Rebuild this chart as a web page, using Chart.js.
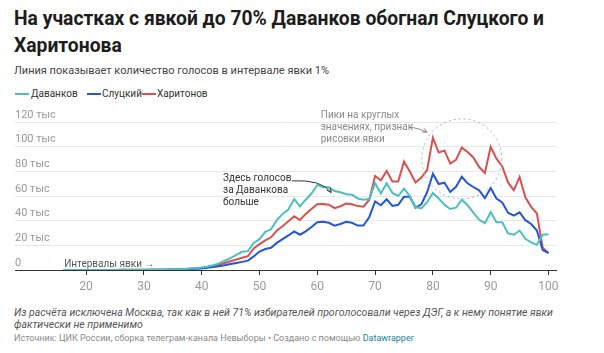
<!DOCTYPE html>
<html><head><meta charset="utf-8">
<script src="https://cdn.jsdelivr.net/npm/chart.js@4"></script>
<style>
html,body{margin:0;padding:0;background:#fff;}
body{width:604px;height:353px;position:relative;overflow:hidden;font-family:Roboto,"Noto Sans",sans-serif;}
#title{position:absolute;left:14px;top:5px;width:580px;font-size:19.3px;font-weight:700;line-height:27px;color:#1d1d1d;}
#sub{position:absolute;left:14px;top:64px;font-size:11px;color:#444;}
#legend{position:absolute;left:0;top:87px;width:604px;height:14px;font-size:10px;color:#333;}
.sw{position:absolute;top:6px;width:14px;height:2px}
.lt{position:absolute;top:0;line-height:14px}
#wrap{position:absolute;left:0;top:100px;width:604px;height:200px;}
#note{position:absolute;left:14px;top:307px;font-size:10.5px;font-style:italic;color:#555;line-height:12px;width:585px}
#src{position:absolute;left:14px;top:333px;font-size:9px;color:#888;}
#src span{color:#1d81a2}
</style>
</head><body>
<div id="title">На участках с явкой до 70% Даванков обогнал Слуцкого и Харитонова</div>
<div id="sub">Линия показывает количество голосов в интервале явки 1%</div>
<div id="legend">
  <div class="sw" style="left:15px;background:#4cbfc0"></div><div class="lt" style="left:31px">Даванков</div>
  <div class="sw" style="left:87px;background:#2357d9"></div><div class="lt" style="left:102px">Слуцкий</div>
  <div class="sw" style="left:142px;background:#d9514e"></div><div class="lt" style="left:157px">Харитонов</div>
</div>
<div id="wrap"><canvas id="c" width="604" height="200"></canvas></div>
<div id="note">Из расчёта исключена Москва, так как в ней 71% избирателей проголосовали через ДЭГ, а к нему понятие явки фактически не применимо</div>
<div id="src">Источник: ЦИК России, сборка телеграм-канала Невыборы • Создано с помощью <span>Datawrapper</span></div>
<script>
// Turnout intervals, %
const turnout = [16,17,18,19,20,21,22,23,24,25,26,27,28,29,30,31,32,33,34,35,36,37,38,39,40,
41,42,43,44,45,46,47,48,49,50,51,52,53,54,55,56,57,58,59,60,61,62,63,64,65,66,67,68,69,70,
71,72,73,74,75,76,77,78,79,80,81,82,83,84,85,86,87,88,89,90,91,92,93,94,95,96,97,98,99,100];
// Votes, thousands
const davankov = [0.1,0.1,0.1,0.1,0.1,0.1,0.1,0.1,0.1,0.1,0.2,0.2,0.2,0.2,0.2,0.3,0.3,0.3,0.4,0.5,0.7,0.9,1.2,1.6,2.1,
2.8,3.8,5.4,7.5,9.7,12.3,14.8,15.3,22,25,31,33,40.5,45.5,49,57.5,51.5,57,62,69,67,67,64,63,61.5,61,58,57,57.5,70.4,
62,70.4,62.5,60,66,60,51,50,55,62.5,58,53,49.5,50.5,57,52.5,46.5,40.7,38,47,38.7,38.7,29.7,28.6,32,25.3,22.4,20.4,28.6,29];
const slutsky = [0.05,0.05,0.05,0.05,0.05,0.05,0.05,0.05,0.05,0.05,0.1,0.1,0.1,0.1,0.1,0.15,0.2,0.2,0.25,0.3,0.45,0.6,0.8,1.0,1.3,
1.8,2.4,3,3.9,4.8,5.7,6.6,7.6,11,15,17,18,22,25,28,31.3,28.6,31.3,34.8,38.8,39.2,38.3,36,37.3,39,38.3,36,36,43,55.6,
52.5,57.3,52,52.9,59.3,59.3,50.6,53.3,63,78,69.7,70.8,63.3,67.5,75.6,70.3,67.3,64.6,58.3,66.4,57.9,54.8,46.5,44.1,46.8,40.4,37.3,32,16.1,13.8];
const kharitonov = [0.08,0.08,0.08,0.08,0.08,0.08,0.08,0.08,0.08,0.08,0.15,0.15,0.15,0.15,0.15,0.2,0.25,0.3,0.35,0.4,0.6,0.8,1.05,1.35,1.8,
2.4,3.2,4.3,5.7,7.1,8.5,9.9,11.2,17.5,21,24,26.5,32,35.5,39.5,43.5,40.5,45.5,49.5,53.3,53.5,53,50.2,51.7,53.8,53.3,51.8,51.3,57,76.2,
72.8,80.3,71.7,71.7,88,79.8,71,75,81,107.3,95.2,96.9,86.3,89.3,99.2,95.7,91.3,83.5,78.7,100,90.3,84,71,64.6,75.5,59,51.2,45.8,18,13.8];
const xTicks = [20,30,40,50,60,70,80,90,100];
const yTicks = [0,20,40,60,80,100,120];

const pts = arr => turnout.map((t,i)=>({x:t,y:arr[i]}));

function arrowHead(ctx, x0, y0, x1, y1, size){
  const a = Math.atan2(y1-y0, x1-x0);
  ctx.beginPath();
  ctx.moveTo(x1 - size*Math.cos(a-0.45), y1 - size*Math.sin(a-0.45));
  ctx.lineTo(x1, y1);
  ctx.lineTo(x1 - size*Math.cos(a+0.45), y1 - size*Math.sin(a+0.45));
  ctx.stroke();
}

const annot = {
  id:'annot',
  afterDatasetsDraw(chart){
    const {ctx, scales:{x,y}} = chart;
    ctx.save();
    ctx.textBaseline = 'middle';
    ctx.textAlign = 'left';
    // axis hint
    ctx.font = '10px Roboto';
    ctx.fillStyle = '#555';
    ctx.fillText('Интервалы явки →', x.getPixelForValue(16.2), y.getPixelForValue(0) - 6);
    // annotation 1
    ctx.fillStyle = '#333';
    const a1x = x.getPixelForValue(43.7), a1y = y.getPixelForValue(73.9);
    ['Здесь голосов','за Даванкова','больше'].forEach((t,i)=>ctx.fillText(t, a1x, a1y + i*12));
    ctx.strokeStyle = '#333'; ctx.lineWidth = 1;
    const s1 = [x.getPixelForValue(55.6), y.getPixelForValue(72.3)];
    const c1 = [x.getPixelForValue(60.8), y.getPixelForValue(73.5)];
    const e1 = [x.getPixelForValue(62.4), y.getPixelForValue(62.8)];
    ctx.beginPath(); ctx.moveTo(s1[0],s1[1]); ctx.quadraticCurveTo(c1[0],c1[1],e1[0],e1[1]); ctx.stroke();
    arrowHead(ctx, c1[0], c1[1], e1[0], e1[1], 5);
    // annotation 2
    ctx.fillStyle = '#8a8a8a';
    const a2x = x.getPixelForValue(60.6), a2y = y.getPixelForValue(124.9);
    ['Пики на круглых','значениях, признак','рисовки явки'].forEach((t,i)=>ctx.fillText(t, a2x, a2y + i*12));
    ctx.strokeStyle = '#8a8a8a';
    const s2 = [x.getPixelForValue(75.9), y.getPixelForValue(116)];
    const e2 = [x.getPixelForValue(79.0), y.getPixelForValue(111.8)];
    ctx.beginPath(); ctx.moveTo(s2[0],s2[1]); ctx.quadraticCurveTo((s2[0]+e2[0])/2, s2[1]+1, e2[0], e2[1]); ctx.stroke();
    arrowHead(ctx, (s2[0]+e2[0])/2, s2[1]+1, e2[0], e2[1], 5);
    // dotted circle
    ctx.strokeStyle = '#aaa';
    ctx.setLineDash([2,3]);
    ctx.beginPath();
    ctx.arc(x.getPixelForValue(85.0), y.getPixelForValue(90.1), 40, 0, Math.PI*2);
    ctx.stroke();
    ctx.restore();
  }
};

new Chart(document.getElementById('c'), {
  type:'line',
  data:{datasets:[
    {label:'Даванков', data:pts(davankov), borderColor:'#4cbfc0', borderWidth:2, pointRadius:0, tension:0},
    {label:'Слуцкий', data:pts(slutsky), borderColor:'#2357d9', borderWidth:2, pointRadius:0, tension:0},
    {label:'Харитонов', data:pts(kharitonov), borderColor:'#d9514e', borderWidth:2, pointRadius:0, tension:0}
  ]},
  options:{
    responsive:false, animation:false, devicePixelRatio:1,
    layout:{padding:{left:15,right:48,top:22,bottom:0}},
    plugins:{legend:{display:false}, tooltip:{enabled:false}},
    scales:{
      x:{type:'linear', min:7.7, max:101.3,
        afterBuildTicks:s=>{s.ticks = xTicks.map(v=>({value:v}));},
        afterFit:s=>{s.height = 30;},
        grid:{drawOnChartArea:false, drawTicks:true, tickLength:5, color:'#333', tickColor:'#333'},
        border:{display:true, color:'#333', width:1},
        ticks:{color:'#999', font:{family:'Roboto', size:12}, padding:5, maxRotation:0, autoSkip:false}},
      y:{min:0, max:120,
        afterBuildTicks:s=>{s.ticks = yTicks.map(v=>({value:v}));},
        afterFit:s=>{s.width = 0;},
        grid:{color:c=>c.tick && c.tick.value===0 ? 'rgba(0,0,0,0)' : '#e8e8e8', drawTicks:false},
        border:{display:false},
        ticks:{mirror:true, padding:0, labelOffset:-7, color:'#999', font:{family:'Roboto', size:11},
          callback:v=> v===0 ? '0' : v + ' тыс'}}
    }
  },
  plugins:[annot]
});
</script>
</body></html>
